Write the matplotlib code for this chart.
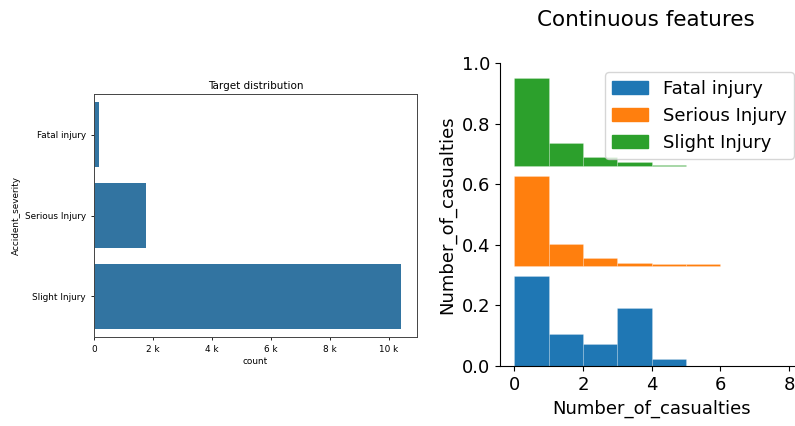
import numpy as np
import matplotlib
matplotlib.use("Agg")
import matplotlib.pyplot as plt
from matplotlib.ticker import EngFormatter
from matplotlib.patches import Patch

# Class counts of the target
severity = ["Fatal injury", "Serious Injury", "Slight Injury"]
severity_counts = [158, 1743, 10415]

# Ridge histograms of Number_of_casualties per class (unit-width bins from 0)
fatal_hist = [0.297, 0.106, 0.073, 0.193, 0.024]
serious_hist = [0.297, 0.072, 0.028, 0.011, 0.006, 0.006]
slight_hist = [0.292, 0.078, 0.030, 0.014, 0.004]
ridge_offsets = [0.0, 0.33, 0.66]
ridge_colors = ["#1f77b4", "#ff7f0e", "#2ca02c"]

fig = plt.figure(figsize=(7.95, 4.26), dpi=100)

# --- Target distribution (horizontal count plot)
ax1 = fig.add_axes([0.1186, 0.2096, 0.4055, 0.569])
ypos = np.arange(len(severity))
ax1.barh(ypos, severity_counts, height=0.8, color="#3274a1")
ax1.set_yticks(ypos)
ax1.set_yticklabels(severity)
ax1.set_ylim(2.5, -0.5)
ax1.set_xlim(0, max(severity_counts) * 1.05)
ax1.xaxis.set_major_formatter(EngFormatter())
ax1.tick_params(labelsize=6.4, length=2.5, width=0.6)
ax1.set_xlabel("count", fontsize=6.4, labelpad=2)
ax1.set_ylabel("Accident_severity", fontsize=6.4, labelpad=3)
ax1.set_title("Target distribution", fontsize=7.5, pad=4)
for s in ax1.spines.values():
    s.set_linewidth(0.7)
    s.set_color("#444444")

# --- Continuous features (stacked ridge histograms)
ax2 = fig.add_axes([0.629, 0.1408, 0.381, 0.7106])
for hist, off, col in zip([fatal_hist, serious_hist, slight_hist], ridge_offsets, ridge_colors):
    edges = np.arange(len(hist))
    ax2.bar(edges, hist, width=1.0, bottom=off, align="edge", color=col,
            edgecolor=(1, 1, 1, 0.35), linewidth=0.4)
ax2.set_xlim(-0.41, 8.4)
ax2.set_ylim(0, 1.0)
ax2.set_xticks([0, 2, 4, 6, 8])
ax2.set_yticks([0.0, 0.2, 0.4, 0.6, 0.8, 1.0])
ax2.spines["top"].set_visible(False)
ax2.spines["right"].set_visible(False)
ax2.tick_params(labelsize=13)
ax2.set_xlabel("Number_of_casualties", fontsize=13)
ax2.set_ylabel("Number_of_casualties", fontsize=13)
handles = [Patch(color=c, label=l) for c, l in zip(ridge_colors, severity)]
ax2.legend(handles=handles, loc="upper right", fontsize=13)

fig.text(0.813, 0.953, "Continuous features", ha="center", va="center", fontsize=15.5)

fig.savefig("out.png", dpi=100)
